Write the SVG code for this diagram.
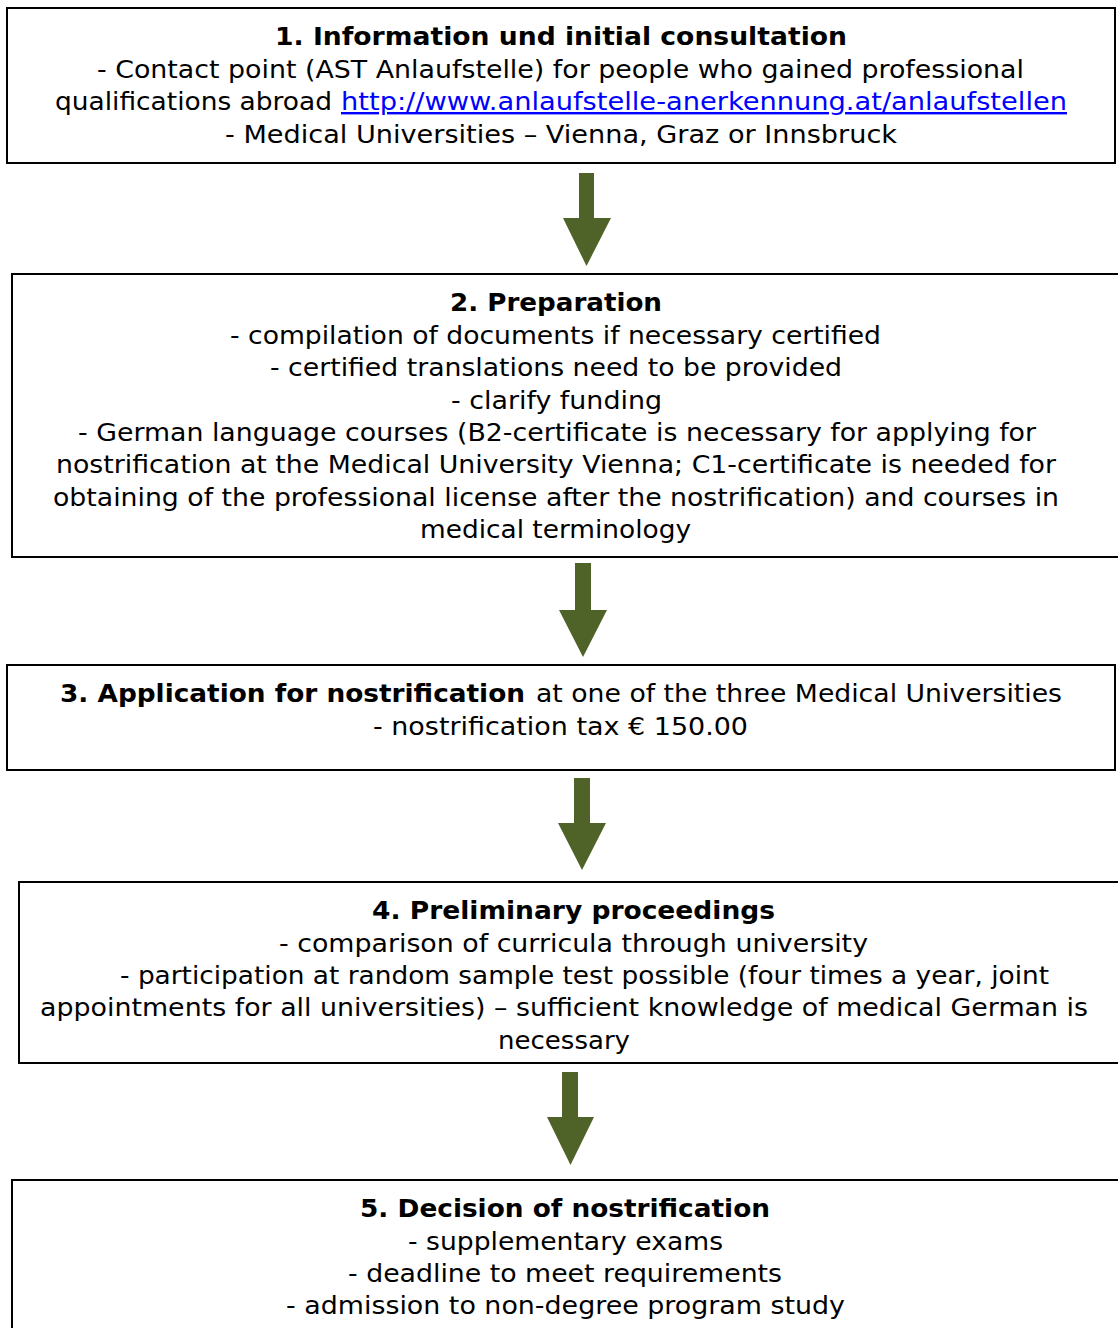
<svg xmlns="http://www.w3.org/2000/svg" width="1118" height="1328" viewBox="0 0 1118 1328">
<style>
.box{fill:#fff;stroke:#000;stroke-width:2}
text{font-family:"DejaVu Sans","Verdana",sans-serif;font-size:24px;fill:#000}
.b{font-weight:bold}
.url{fill:#0000ff;text-decoration:underline}
.arrow{fill:#4f6228}
</style>
<rect width="1118" height="1328" fill="#fff"/>
<g id="node1">
<rect class="box" x="7" y="8" width="1108" height="155"/>
<text class="b" x="275" y="45" textLength="572" lengthAdjust="spacingAndGlyphs">1. Information und initial consultation</text>
<text x="97" y="78" textLength="927" lengthAdjust="spacingAndGlyphs">- Contact point (AST Anlaufstelle) for people who gained professional</text>
<text x="55" y="110" textLength="277" lengthAdjust="spacingAndGlyphs">qualifications abroad</text>
<text class="url" x="341" y="110" textLength="726" lengthAdjust="spacingAndGlyphs">http://www.anlaufstelle-anerkennung.at/anlaufstellen</text>
<text x="225" y="143" textLength="672" lengthAdjust="spacingAndGlyphs">- Medical Universities – Vienna, Graz or Innsbruck</text>
</g>
<g id="node2">
<rect class="box" x="12" y="274" width="1110" height="283"/>
<text class="b" x="450" y="311" textLength="212" lengthAdjust="spacingAndGlyphs">2. Preparation</text>
<text x="230" y="344" textLength="651" lengthAdjust="spacingAndGlyphs">- compilation of documents if necessary certified</text>
<text x="270" y="376" textLength="572" lengthAdjust="spacingAndGlyphs">- certified translations need to be provided</text>
<text x="451" y="409" textLength="211" lengthAdjust="spacingAndGlyphs">- clarify funding</text>
<text x="78" y="441" textLength="958" lengthAdjust="spacingAndGlyphs">- German language courses (B2-certificate is necessary for applying for</text>
<text x="56" y="473" textLength="1000" lengthAdjust="spacingAndGlyphs">nostrification at the Medical University Vienna; C1-certificate is needed for</text>
<text x="53" y="506" textLength="1006" lengthAdjust="spacingAndGlyphs">obtaining of the professional license after the nostrification) and courses in</text>
<text x="420" y="538" textLength="271" lengthAdjust="spacingAndGlyphs">medical terminology</text>
</g>
<g id="node3">
<rect class="box" x="7" y="665" width="1108" height="105"/>
<text class="b" x="60" y="702" textLength="465" lengthAdjust="spacingAndGlyphs">3. Application for nostrification</text>
<text x="536" y="702" textLength="526" lengthAdjust="spacingAndGlyphs">at one of the three Medical Universities</text>
<text x="373" y="735" textLength="375" lengthAdjust="spacingAndGlyphs">- nostrification tax € 150.00</text>
</g>
<g id="node4">
<rect class="box" x="19" y="882" width="1103" height="181"/>
<text class="b" x="372" y="919" textLength="403" lengthAdjust="spacingAndGlyphs">4. Preliminary proceedings</text>
<text x="279" y="952" textLength="589" lengthAdjust="spacingAndGlyphs">- comparison of curricula through university</text>
<text x="120" y="984" textLength="929" lengthAdjust="spacingAndGlyphs">- participation at random sample test possible (four times a year, joint</text>
<text x="40" y="1016" textLength="1048" lengthAdjust="spacingAndGlyphs">appointments for all universities) – sufficient knowledge of medical German is</text>
<text x="498" y="1049" textLength="132" lengthAdjust="spacingAndGlyphs">necessary</text>
</g>
<g id="node5">
<rect class="box" x="12" y="1180" width="1110" height="160"/>
<text class="b" x="360" y="1217" textLength="410" lengthAdjust="spacingAndGlyphs">5. Decision of nostrification</text>
<text x="408" y="1250" textLength="315" lengthAdjust="spacingAndGlyphs">- supplementary exams</text>
<text x="348" y="1282" textLength="434" lengthAdjust="spacingAndGlyphs">- deadline to meet requirements</text>
<text x="286" y="1314" textLength="559" lengthAdjust="spacingAndGlyphs">- admission to non-degree program study</text>
</g>
<g id="connectors">
<polygon class="arrow" points="579,173 594,173 594,218 611,218 586.5,266 563,218 579,218"/>
<polygon class="arrow" points="575,563 591,563 591,610 607,610 583,657 559,610 575,610"/>
<polygon class="arrow" points="574,778 590,778 590,823 606,823 582,870 558,823 574,823"/>
<polygon class="arrow" points="562,1072 578,1072 578,1117 594,1117 570.5,1165 547,1117 562,1117"/>
</g>
</svg>
